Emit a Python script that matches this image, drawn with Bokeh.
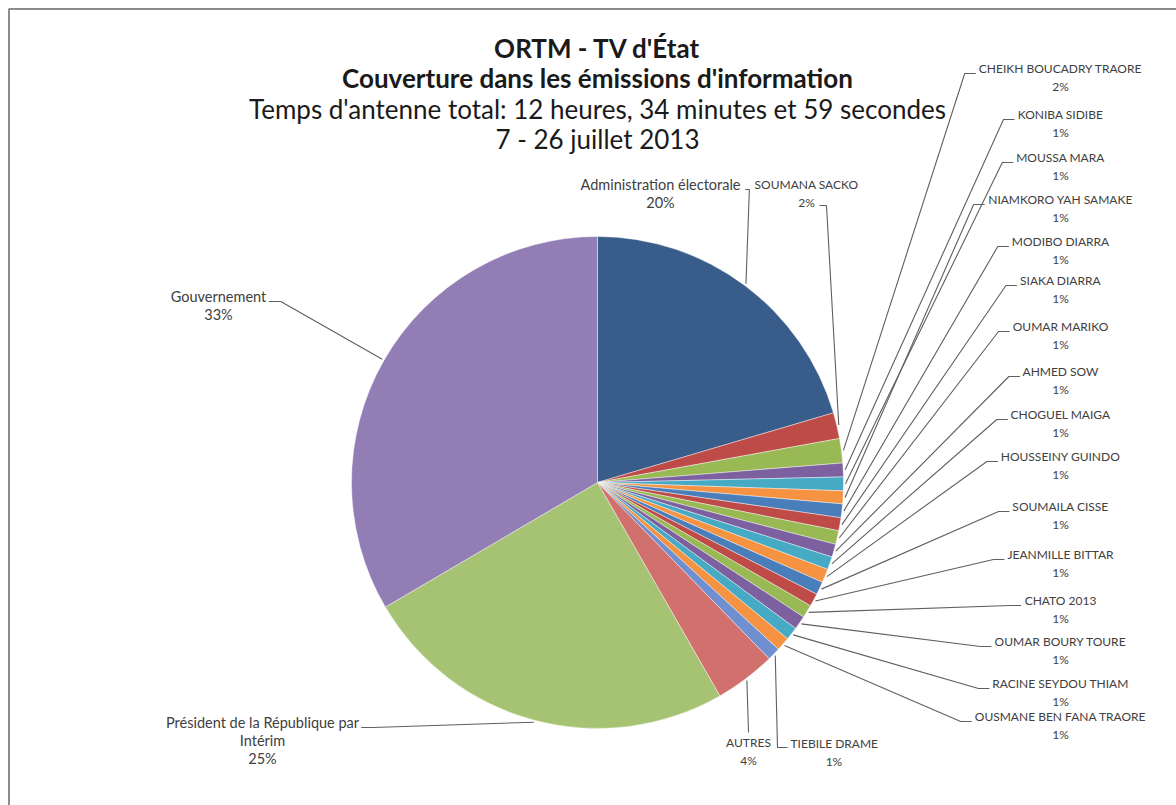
import math
from bokeh.plotting import figure
from bokeh.models import Range1d
from bokeh.embed import file_html
from bokeh.resources import INLINE
from bokeh.core.properties import value

# ---------------- data ----------------
categories = ["Administration électorale", "SOUMANA SACKO", "CHEIKH BOUCADRY TRAORE",
              "KONIBA SIDIBE", "MOUSSA MARA", "NIAMKORO YAH SAMAKE", "MODIBO DIARRA",
              "SIAKA DIARRA", "OUMAR MARIKO", "AHMED SOW", "CHOGUEL MAIGA",
              "HOUSSEINY GUINDO", "SOUMAILA CISSE", "JEANMILLE BITTAR", "CHATO 2013",
              "OUMAR BOURY TOURE", "RACINE SEYDOU THIAM", "OUSMANE BEN FANA TRAORE",
              "TIEBILE DRAME", "AUTRES", "Président de la République par Intérim",
              "Gouvernement"]
shares = [20.4, 1.7, 1.6, 0.9, 0.9, 0.85, 0.9, 0.85, 0.9, 0.85, 0.85, 0.9, 0.85,
          0.85, 0.85, 0.9, 0.85, 0.9, 0.85, 4.0, 24.8, 33.4]
title_lines = ["ORTM - TV d'État", "Couverture dans les émissions d'information",
               "Temps d'antenne total: 12 heures, 34 minutes et 59 secondes",
               "7 - 26 juillet 2013"]

# ---------------- style ----------------
RED, GREEN, PURPLE, AQUA, ORANGE, BLUE = "#BE4B48", "#98B954", "#7D60A0", "#46AAC5", "#F59342", "#4A7EBB"
colors = ["#385D8A", RED, GREEN, PURPLE, AQUA, ORANGE, BLUE, RED, GREEN, PURPLE, AQUA,
          ORANGE, BLUE, RED, GREEN, PURPLE, AQUA, ORANGE, "#6F8FD0", "#D2706D",
          "#A5C373", "#927DB5"]

W, H = 1176, 805
def X(px):
    return px
def Y(py):
    return H - py

p = figure(width=W, height=H, x_range=Range1d(0, W), y_range=Range1d(0, H),
           output_backend="svg", toolbar_location=None, min_border=0,
           x_axis_type=None, y_axis_type=None)
p.grid.visible = False
p.outline_line_color = None
p.background_fill_color = "white"

LABEL_FONT = "Lato"
FS = 12        # upper-case labels
FSM = 14.5     # mixed-case labels
TXT = "#404040"
LINE = "#5f5f5f"
LW = 1.1

# border (top and left)
p.line([X(8.5), X(8.5), X(1176)], [Y(805), Y(8.5), Y(8.5)], line_color="#8c8c8c", line_width=2)

# ---------------- pie ----------------
CX, CY, R = X(597), Y(482), 246
total = sum(shares)
starts, ends, mids = [], [], []
c = 0.0
for v in shares:
    a0 = 2 * math.pi * c / total
    c += v
    a1 = 2 * math.pi * c / total
    starts.append(math.pi / 2 - a0)
    ends.append(math.pi / 2 - a1)
    mids.append((a0 + a1) / 2)

p.wedge(x=[CX] * len(shares), y=[CY] * len(shares), radius=R,
        start_angle=starts, end_angle=ends, direction="clock",
        fill_color=colors, line_color="white", line_width=0.6, line_alpha=0.7)

pct = ["%d%%" % round(v / total * 100) for v in shares]

def edge(i, extra=2):
    t = mids[i]
    return CX + (R + extra) * math.sin(t), CY + (R + extra) * math.cos(t)

UPW = dict(A=.68, B=.64, C=.66, D=.75, E=.57, F=.55, G=.72, H=.76, I=.29, J=.4, K=.66,
           L=.5, M=.91, N=.76, O=.81, P=.6, Q=.81, R=.63, S=.54, T=.59, U=.73, V=.68,
           W=1.0, X=.65, Y=.62, Z=.6)
def twidth(s, fs=FS):
    w = 0
    for ch in s:
        if ch == " ":
            w += .25
        elif ch in UPW:
            w += UPW[ch]
        elif ch.isdigit():
            w += .58
        elif ch in "ilj'":
            w += .24
        elif ch in "mw":
            w += .8
        else:
            w += .5
    return w * fs

def put(xs, ys, texts, size=FS, bold=False, align="center", color=TXT, font=LABEL_FONT):
    p.text(x=xs, y=ys, text=texts, text_font=value(font), text_font_size="%gpx" % size,
           text_align=align, text_baseline="middle", text_color=color,
           text_font_style="bold" if bold else "normal")

# ---------------- title ----------------
tys = [47, 77, 108, 138]
for k, t in enumerate(title_lines):
    put([X(597)], [Y(tys[k])], [t], size=26, bold=(k < 2), color="#1a1a1a", font="Lato")

# ---------------- right column labels ----------------
right_idx = list(range(2, 18))
right_y = [68, 114, 157, 199, 241, 280, 326, 371, 414, 456, 506, 554, 600, 641, 683, 716]
RX = 1060
LS = 18
for i, ny in zip(right_idx, right_y):
    name = categories[i]
    put([X(RX)], [Y(ny)], [name])
    put([X(RX)], [Y(ny + LS)], [pct[i]])
    left = RX - twidth(name) / 2
    ex, ey = edge(i)
    p.line([X(left - 3), X(left - 14), ex], [Y(ny + 5), Y(ny + 5), ey],
           line_color=LINE, line_width=LW)

# Administration électorale
ax_, ay_ = 660, 184
put([X(ax_)], [Y(ay_)], [categories[0]], size=FSM)
put([X(ax_)], [Y(ay_ + LS)], [pct[0]], size=FSM)
ex, ey = edge(0)
r0 = ax_ + twidth(categories[0], FSM) / 2
p.line([X(r0 + 2), X(r0 + 6), ex], [Y(ay_ + 5), Y(ay_ + 5), ey], line_color=LINE, line_width=LW)

# SOUMANA SACKO
sx, sy = 806, 184
put([X(sx)], [Y(sy)], [categories[1]])
put([X(sx)], [Y(sy + LS)], [pct[1]])
ex, ey = edge(1)
p.line([X(sx + 13), X(sx + 20), ex], [Y(sy + LS + 3), Y(sy + LS + 3), ey], line_color=LINE, line_width=LW)

# TIEBILE DRAME
tx, ty = 790, 743
put([X(tx)], [Y(ty)], [categories[18]], align="left")
put([X(tx + twidth(categories[18]) / 2)], [Y(ty + LS)], [pct[18]])
ex, ey = edge(18)
p.line([X(tx - 3), X(tx - 13), ex], [Y(ty + 4), Y(ty + 4), ey], line_color=LINE, line_width=LW)

# AUTRES
ux, uy = 748, 742
put([X(ux)], [Y(uy)], [categories[19]])
put([X(ux)], [Y(uy + LS)], [pct[19]])
ex, ey = edge(19)
p.line([X(ux), ex], [Y(uy - 10), ey], line_color=LINE, line_width=LW)

# Président de la République par Intérim
px_, py_ = 262, 722
put([X(px_)], [Y(py_)], ["Président de la République par"], size=FSM)
put([X(px_)], [Y(py_ + LS)], ["Intérim"], size=FSM)
put([X(px_)], [Y(py_ + 2 * LS)], [pct[20]], size=FSM)
ex, ey = edge(20)
rr = px_ + twidth("Président de la République par", FSM) / 2
p.line([X(rr + 3), X(rr + 15), ex], [Y(py_ + 5), Y(py_ + 5), ey], line_color=LINE, line_width=LW)

# Gouvernement
gx, gy = 218, 296
put([X(gx)], [Y(gy)], [categories[21]], size=FSM)
put([X(gx)], [Y(gy + LS)], [pct[21]], size=FSM)
ex, ey = edge(21)
rg = gx + twidth(categories[21], FSM) / 2
p.line([X(rg + 3), X(rg + 15), ex], [Y(gy + 5), Y(gy + 5), ey], line_color=LINE, line_width=LW)

open("out.html", "w").write(file_html(p, INLINE))
